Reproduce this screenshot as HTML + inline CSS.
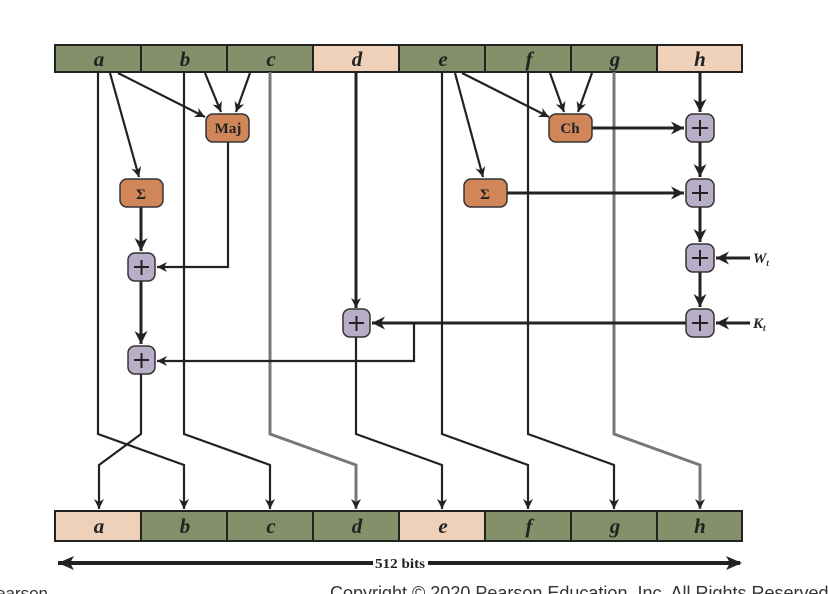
<!DOCTYPE html>
<html><head><meta charset="utf-8"><style>
html,body{margin:0;padding:0;background:#fff;width:828px;height:594px;overflow:hidden}
svg{display:block}
text{font-family:"Liberation Serif",serif}
</style></head><body>
<svg width="828" height="594" viewBox="0 0 828 594" xmlns="http://www.w3.org/2000/svg">
<defs>
<marker id="ar" viewBox="0 0 10 10" refX="10" refY="5" markerWidth="10" markerHeight="10" markerUnits="userSpaceOnUse" orient="auto"><path d="M0,0 L10,5 L0,10 L3,5 z" fill="#222"/></marker>
<marker id="arb" viewBox="0 0 10 10" refX="10" refY="5" markerWidth="13" markerHeight="13" markerUnits="userSpaceOnUse" orient="auto"><path d="M0,0 L10,5 L0,10 L3,5 z" fill="#222"/></marker>
</defs>
<g stroke="#222" stroke-width="2">
<rect x="55" y="45" width="86" height="27" fill="#849069"/>
<rect x="141" y="45" width="86" height="27" fill="#849069"/>
<rect x="227" y="45" width="86" height="27" fill="#849069"/>
<rect x="313" y="45" width="86" height="27" fill="#efd0b8"/>
<rect x="399" y="45" width="86" height="27" fill="#849069"/>
<rect x="485" y="45" width="86" height="27" fill="#849069"/>
<rect x="571" y="45" width="86" height="27" fill="#849069"/>
<rect x="657" y="45" width="85" height="27" fill="#efd0b8"/>
</g>
<g font-size="21" font-style="italic" font-weight="bold" fill="#222" text-anchor="middle">
<text x="99" y="66">a</text><text x="185" y="66">b</text><text x="271" y="66">c</text><text x="357" y="66">d</text>
<text x="443" y="66">e</text><text x="529" y="66">f</text><text x="615" y="66">g</text><text x="700" y="66">h</text>
</g>
<g stroke="#222" stroke-width="2">
<rect x="55" y="511" width="86" height="30" fill="#efd0b8"/>
<rect x="141" y="511" width="86" height="30" fill="#849069"/>
<rect x="227" y="511" width="86" height="30" fill="#849069"/>
<rect x="313" y="511" width="86" height="30" fill="#849069"/>
<rect x="399" y="511" width="86" height="30" fill="#efd0b8"/>
<rect x="485" y="511" width="86" height="30" fill="#849069"/>
<rect x="571" y="511" width="86" height="30" fill="#849069"/>
<rect x="657" y="511" width="85" height="30" fill="#849069"/>
</g>
<g font-size="21" font-style="italic" font-weight="bold" fill="#222" text-anchor="middle">
<text x="99" y="533">a</text><text x="185" y="533">b</text><text x="271" y="533">c</text><text x="357" y="533">d</text>
<text x="443" y="533">e</text><text x="529" y="533">f</text><text x="615" y="533">g</text><text x="700" y="533">h</text>
</g>
<line x1="58" y1="563" x2="373" y2="563" stroke="#222" stroke-width="4"/>
<line x1="428" y1="563" x2="740" y2="563" stroke="#222" stroke-width="4"/>
<path d="M58,563 L74,556 L70,563 L74,570z" fill="#222"/>
<path d="M742,563 L726,556 L730,563 L726,570z" fill="#222"/>
<text x="400" y="568" font-size="14" font-weight="bold" text-anchor="middle" fill="#222" textLength="50" lengthAdjust="spacingAndGlyphs">512 bits</text>
<g fill="none" stroke="#222" stroke-width="2.2">
<polyline points="98,72 98,434 184,465 184,509" marker-end="url(#ar)"/>
<polyline points="184,72 184,434 270,465 270,509" marker-end="url(#ar)"/>
<polyline points="270,72 270,434 356,465 356,509" marker-end="url(#ar)" stroke="#777" stroke-width="3"/>
<polyline points="356,72 356,308" marker-end="url(#ar)" stroke-width="3"/>
<polyline points="356,337 356,434 442,465 442,509" marker-end="url(#ar)"/>
<polyline points="442,72 442,434 528,465 528,509" marker-end="url(#ar)"/>
<polyline points="528,72 528,434 614,465 614,509" marker-end="url(#ar)"/>
<polyline points="614,72 614,434 700,465 700,509" marker-end="url(#ar)" stroke="#777" stroke-width="3"/>
<polyline points="141,374 141,434 99,465 99,509" marker-end="url(#ar)"/>
<line x1="110" y1="73" x2="139" y2="177" marker-end="url(#ar)"/>
<line x1="118" y1="73" x2="205" y2="117" marker-end="url(#ar)"/>
<line x1="205" y1="73" x2="221" y2="112" marker-end="url(#ar)"/>
<line x1="250" y1="73" x2="236" y2="112" marker-end="url(#ar)"/>
<line x1="455" y1="73" x2="483" y2="177" marker-end="url(#ar)"/>
<line x1="462" y1="73" x2="549" y2="117" marker-end="url(#ar)"/>
<line x1="550" y1="73" x2="564" y2="112" marker-end="url(#ar)"/>
<line x1="592" y1="73" x2="578" y2="112" marker-end="url(#ar)"/>
<polyline points="228,142 228,267 157,267" marker-end="url(#ar)"/>
<polyline points="686,323 372,323" marker-end="url(#arb)" stroke-width="3"/>
<polyline points="414,323 414,361 157,361" marker-end="url(#ar)"/>
</g>
<g fill="none" stroke="#222" stroke-width="3">
<line x1="141" y1="207" x2="141" y2="251" marker-end="url(#arb)"/>
<line x1="141" y1="281" x2="141" y2="344" marker-end="url(#arb)"/>
<line x1="700" y1="72" x2="700" y2="112" marker-end="url(#arb)"/>
<line x1="592" y1="128" x2="684" y2="128" marker-end="url(#arb)"/>
<line x1="507" y1="193" x2="684" y2="193" marker-end="url(#arb)"/>
<line x1="700" y1="142" x2="700" y2="177" marker-end="url(#arb)"/>
<line x1="700" y1="207" x2="700" y2="242" marker-end="url(#arb)"/>
<line x1="700" y1="272" x2="700" y2="307" marker-end="url(#arb)"/>
<line x1="750" y1="258" x2="716" y2="258" marker-end="url(#arb)"/>
<line x1="750" y1="323" x2="716" y2="323" marker-end="url(#arb)"/>
</g>
<g stroke="#333" stroke-width="1.5" fill="#d08658">
<rect x="206" y="114" width="43" height="28" rx="7"/>
<rect x="120" y="179" width="43" height="28" rx="7"/>
<rect x="549" y="114" width="43" height="28" rx="7"/>
<rect x="464" y="179" width="43" height="28" rx="7"/>
</g>
<g font-size="15" font-weight="bold" fill="#222" text-anchor="middle">
<text x="228" y="133">Maj</text><text x="141" y="199">Σ</text><text x="570" y="133">Ch</text><text x="485" y="199">Σ</text>
</g>
<g stroke="#333" stroke-width="1.5" fill="#b9aec8">
<rect x="128" y="253" width="27" height="28" rx="7"/>
<rect x="128" y="346" width="27" height="28" rx="7"/>
<rect x="343" y="309" width="27" height="28" rx="7"/>
<rect x="686" y="114" width="28" height="28" rx="7"/>
<rect x="686" y="179" width="28" height="28" rx="7"/>
<rect x="686" y="244" width="28" height="28" rx="7"/>
<rect x="686" y="309" width="28" height="28" rx="7"/>
</g>
<g stroke="#222" stroke-width="2">
<path d="M134,267h15M141.5,260v15"/>
<path d="M134,360h15M141.5,353v15"/>
<path d="M349,323h15M356.5,316v15"/>
<path d="M692,128h16M700,120v16"/>
<path d="M692,193h16M700,185v16"/>
<path d="M692,258h16M700,250v16"/>
<path d="M692,323h16M700,315v16"/>
</g>
<text x="753" y="263" font-size="15" font-style="italic" font-weight="bold" fill="#222">W<tspan font-size="9" dy="3">t</tspan></text>
<text x="753" y="328" font-size="15" font-style="italic" font-weight="bold" fill="#222">K<tspan font-size="9" dy="3">t</tspan></text>
<text x="-4" y="599" font-size="17" fill="#333" style="font-family:'Liberation Sans',sans-serif">earson</text>
<text x="330" y="599" font-size="18" fill="#333" style="font-family:'Liberation Sans',sans-serif">Copyright © 2020 Pearson Education, Inc. All Rights Reserved.</text>
</svg>
</body></html>
